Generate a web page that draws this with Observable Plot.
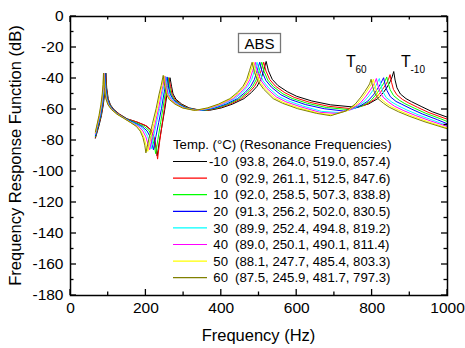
<!DOCTYPE html>
<html><head><meta charset="utf-8">
<script src="https://cdn.jsdelivr.net/npm/d3@7"></script>
<script src="https://cdn.jsdelivr.net/npm/@observablehq/plot@0.6"></script>
<style>body{margin:0;background:#fff}</style>
</head><body><div id="chart"></div>
<script>
const temps = ["-10", "0", "10", "20", "30", "40", "50", "60"];
const resFreqs = ["(93.8, 264.0, 519.0, 857.4)", "(92.9, 261.1, 512.5, 847.6)", "(92.0, 258.5, 507.3, 838.8)", "(91.3, 256.2, 502.0, 830.5)", "(89.9, 252.4, 494.8, 819.2)", "(89.0, 250.1, 490.1, 811.4)", "(88.1, 247.7, 485.4, 803.3)", "(87.5, 245.9, 481.7, 797.3)"];
const colors = ["#000000", "#ff0000", "#00ff00", "#0000ff", "#00ffff", "#ff00ff", "#ffff00", "#808000"];
const xTicks = [0, 200, 400, 600, 800, 1000];
const yTicks = [0, -20, -40, -60, -80, -100, -120, -140, -160, -180];

const sM10 = [[66,-78.5],[75,-71],[82,-64],[87,-57],[90.5,-50],[92.5,-44],[93.8,-36.5],
[96,-46],[100,-53],[106,-57],[115,-60],[130,-63],[150,-66],[175,-68],[200,-70.5],[212,-73],[220,-77],[226,-83],[230,-90],
[236,-80],[243,-70],[250,-60],[256,-50],[260,-44.5],[264,-39.5],
[268,-45],[272,-50],[280,-53.5],[295,-56.5],[315,-59],[345,-60.5],[369,-60.5],
[400,-59],[430,-56.5],[460,-53],[480,-49],[495,-45],[505,-40.5],[512,-35],[519,-29],
[525,-35],[535,-40.5],[550,-44.5],[575,-48.5],[600,-51.5],[640,-54.5],[690,-57],[755,-58.5],
[790,-56.5],[815,-53],[830,-49],[840,-45.5],[848,-42],[853,-39],[857.4,-35.5],
[861,-41],[866,-46],[875,-50],[890,-53],[905,-55],[930,-58],[960,-61.5],[1000,-65]];
const s0 = [[66,-78],[81.1,-64],[86.1,-57],[89.6,-50],[91.6,-44],[92.9,-36.5],
[95.1,-46],[99.1,-53],[104.9,-57],[113.9,-60],[128.9,-63],[148,-66],[176,-68],[201,-70.5],[213,-73],[221,-77.5],[227,-84],[231,-92],
[236.3,-81],[242.5,-70.5],[248.7,-60],[254,-50],[257.5,-44.5],[261.1,-39.5],
[265.1,-45],[269.1,-50],[277.1,-53.5],[292.1,-56.5],[312.1,-59],[342.1,-60.5],[362.5,-60.5],
[393.5,-59],[423.5,-56.5],[453.5,-53],[473.5,-49],[488.5,-45],[498.5,-40.5],[505.5,-35],[512.5,-29.5],
[518.5,-35.2],[528.5,-40.7],[543.5,-44.9],[568.5,-49.2],[593.5,-52.2],[633.5,-55.3],[683.5,-57.9],[745,-59.5],
[780.6,-57.3],[805.6,-53.6],[820.6,-49.5],[830.6,-46],[838.6,-43],[843.6,-40.5],[847.6,-37.5],
[851.6,-42.5],[856.6,-47],[865.6,-50.5],[880.6,-53.5],[895.6,-55.6],[920.6,-58.6],[950.6,-62],[990.6,-65.5],[1000,-66.3]];
const s10 = [[66,-77.5],[80.2,-64],[85.2,-57],[88.7,-50],[90.7,-44],[92,-36.5],
[94.2,-46],[98.2,-53],[104,-57],[113,-60],[128,-63.2],[147,-66],[171,-68.3],[196,-71],[208,-73.5],[216,-77.5],[222,-83],[226,-88.5],
[231.7,-79.5],[238.4,-69.5],[245.1,-59.5],[250.9,-50],[254.7,-44.5],[258.5,-39.3],
[262.5,-45],[266.5,-50],[274.5,-53.5],[289.5,-56.5],[309.5,-59],[339.5,-60.5],[357.3,-60.5],
[388.3,-59],[418.3,-56.5],[448.3,-53],[468.3,-49],[483.3,-45],[493.3,-40.5],[500.3,-35],[507.3,-29.5],
[513.3,-35.3],[523.3,-41],[538.3,-45.3],[563.3,-49.9],[588.3,-52.9],[628.3,-56],[678.3,-58.7],[735,-60],
[771.8,-58],[796.8,-54.2],[811.8,-50],[821.8,-46.4],[829.8,-43.5],[834.8,-41.4],[838.8,-39],
[842.8,-43.2],[847.8,-47.2],[856.8,-51],[871.8,-54],[886.8,-56.2],[911.8,-59.1],[941.8,-62.4],[981.8,-66],[1000,-67.8]];
const s20 = [[66,-77],[79.5,-64],[84.5,-57],[88,-50],[90,-44],[91.3,-36.5],
[93.5,-46],[97.5,-53],[103.3,-57],[112.3,-60],[127,-63.2],[145,-65.8],[167,-68.3],[190,-71],[203,-73.8],[211,-77.5],[216.5,-82.5],[220,-86],
[226.4,-77.5],[233.8,-68.5],[241.3,-59.5],[247.7,-50],[251.9,-44.5],[256.2,-39],
[260.2,-45],[264.2,-50],[272.2,-53.5],[287.2,-56.5],[307.2,-59],[337.2,-60.5],[352,-60.5],
[383,-59],[413,-56.5],[443,-53],[463,-49],[478,-45],[488,-40.5],[495,-35],[502,-29.5],
[508,-35.4],[518,-41.2],[533,-45.6],[558,-50.5],[583,-53.5],[623,-56.8],[673,-59.5],[725,-61],
[763.5,-58.5],[788.5,-54.6],[803.5,-50.6],[813.5,-47],[821.5,-43.8],[826.5,-41.5],[830.5,-39.5],
[834.5,-43.8],[839.5,-47.8],[848.5,-51.8],[863.5,-54.8],[878.5,-56.6],[903.5,-59.6],[933.5,-62.9],[973.5,-66.6],[1000,-69.3]];
const s30 = [[66,-76],[78.1,-64],[83.1,-57],[86.6,-50],[88.6,-44],[89.9,-36.5],
[92.1,-46],[96.1,-53],[101.9,-57],[110.9,-60],[125.5,-63.1],[143,-65.7],[163,-68.4],[185,-71],[197,-73.8],[205,-77.5],[210.5,-82.5],[214,-85.5],
[220.8,-77],[228.7,-68],[236.6,-59.5],[243.4,-50],[247.9,-44.5],[252.4,-38.7],
[256.4,-45],[260.4,-50],[268.4,-53.5],[283.4,-56.5],[303.4,-59],[333.4,-60.5],[344.8,-60.5],
[375.8,-59],[405.8,-56.5],[435.8,-53],[455.8,-49],[470.8,-45],[480.8,-40.5],[487.8,-35],[494.8,-29.5],
[500.8,-35.6],[510.8,-41.5],[525.8,-46.1],[550.8,-51.4],[575.8,-54.3],[615.8,-57.7],[665.8,-61.2],[715,-62],
[752.2,-59.4],[777.2,-55.2],[792.2,-51.1],[802.2,-47.6],[810.2,-44.6],[815.2,-42],[819.2,-40],
[823.2,-44.1],[828.2,-48.3],[837.2,-52.2],[852.2,-55.2],[867.2,-57.3],[892.2,-60.3],[922.2,-63.4],[962.2,-67],[1000,-70.4]];
const s40 = [[66,-75.5],[77.2,-64],[82.2,-57],[85.7,-50],[87.7,-44],[89,-36.5],
[91.2,-46],[95.2,-53],[101,-57],[110,-60],[124.5,-63],[142,-65.6],[161,-68.5],[181,-71],[192,-73.9],[200,-77.7],[206,-82.8],[210,-86],
[217.1,-77.5],[225.3,-68.5],[233.6,-59.5],[240.7,-50],[245.4,-44.5],[250.1,-38.5],
[254.1,-45],[258.1,-50],[266.1,-53.5],[281.1,-56.5],[301.1,-59],[331.1,-60.5],[340.1,-60.5],
[371.1,-59],[401.1,-56.5],[431.1,-53],[451.1,-49],[466.1,-45],[476.1,-40.5],[483.1,-35],[490.1,-29.5],
[496.1,-35.8],[506.1,-41.6],[521.1,-46.4],[546.1,-51.9],[571.1,-55],[611.1,-58.3],[661.1,-61.8],[705,-62.5],
[744.4,-60],[769.4,-55.7],[784.4,-51.3],[794.4,-47.8],[802.4,-44.7],[807.4,-42.5],[811.4,-40],
[815.4,-44.4],[820.4,-48.3],[829.4,-52.1],[844.4,-55.3],[859.4,-57.9],[884.4,-60.8],[914.4,-63.8],[954.4,-67.3],[1000,-71]];
const s50 = [[66,-75],[76.3,-64],[81.3,-57],[84.8,-50],[86.8,-44],[88.1,-36.5],
[90.3,-46],[94.3,-53],[100.1,-57],[109.1,-60],[123.7,-63],[141,-65.5],[160.5,-68.5],[177,-71],[187.5,-74],[195,-78],[200.5,-83],[205,-87],
[212.5,-78.5],[221.3,-69],[230.1,-59.5],[237.7,-50],[242.7,-44.5],[247.7,-38.2],
[251.7,-45],[255.7,-50],[263.7,-53.5],[278.7,-56.5],[298.7,-59],[328.7,-60.5],[335.4,-60.5],
[366.4,-59],[396.4,-56.5],[426.4,-53],[446.4,-49],[461.4,-45],[471.4,-40.5],[478.4,-35],[485.4,-29.5],
[491.4,-35.9],[501.4,-41.9],[516.4,-46.7],[541.4,-52.5],[566.4,-55.6],[606.4,-59],[656.4,-62.3],[695,-63.5],
[736.3,-60.6],[761.3,-56.2],[776.3,-51.7],[786.3,-48.2],[794.3,-45.1],[799.3,-43],[803.3,-40.5],
[807.3,-44.6],[812.3,-48.7],[821.3,-52.7],[836.3,-55.8],[851.3,-58.2],[876.3,-61.2],[906.3,-64.2],[946.3,-67.7],[1000,-72]];
const s60 = [[66,-74.5],[75.5,-64],[80.5,-57],[84.2,-50],[86.2,-44],[87.5,-36.5],
[89.7,-46],[93.7,-53],[99.5,-57],[108.5,-60],[123,-63],[140,-65.5],[160,-68.5],[175,-71],[185,-74],[192,-78],[197,-83],[200,-88],
[208,-79],[217.5,-69],[227,-59.5],[235,-50],[240.5,-44.5],[245.9,-38],
[249.9,-45],[253.9,-50],[261.9,-53.5],[276.9,-56.5],[296.9,-59],[326.9,-60.5],[331.7,-60.5],
[362.7,-59],[392.7,-56.5],[422.7,-53],[442.7,-49],[457.7,-45],[467.7,-40.5],[474.7,-35],[481.7,-29.5],
[487.7,-36],[497.7,-42],[512.7,-47],[537.7,-53],[562.7,-56],[602.7,-59.5],[652.7,-62.5],[690,-64],
[730.3,-61],[755.3,-56.5],[770.3,-52],[780.3,-48.5],[788.3,-45.5],[793.3,-43.5],[797.3,-40.5],
[801.3,-45],[806.3,-49],[815.3,-53],[830.3,-56],[845.3,-58.5],[870.3,-61.5],[900.3,-64.5],[940.3,-68],[1000,-72.5]];

const seriesData = [sM10, s0, s10, s20, s30, s40, s50, s60];
const FONT = "Arial, 'Liberation Sans', sans-serif";

const plot = Plot.plot({
  width: 465, height: 348,
  marginLeft: 70, marginRight: 18, marginTop: 16, marginBottom: 53,
  x: {domain: [0, 1000]},
  y: {domain: [-180, 0]},
  style: {fontFamily: FONT, fontSize: "15.5px", color: "black", background: "white", overflow: "visible"},
  marks: [
    Plot.axisX({ticks: xTicks, tickSize: 0, tickPadding: 6, label: null, tickFormat: d => String(d)}),
    Plot.axisY({ticks: yTicks, tickSize: 0, tickPadding: 7, label: null, tickFormat: d => String(d)}),
    ...seriesData.map((s, i) => Plot.line(s, {x: d => d[0], y: d => d[1], stroke: colors[i], strokeWidth: 1})),
    Plot.frame({stroke: "black", strokeWidth: 1.5})
  ]
});
document.getElementById("chart").appendChild(plot);

const sx = plot.scale("x"), sy = plot.scale("y");
const svg = d3.select(plot);
const g = svg.append("g").attr("stroke", "black").attr("stroke-width", 1.3);
const [x0, x1] = sx.range, [yb, yt] = sy.range;
for (let v = 0; v <= 1000; v += 100) {
  const len = v % 200 === 0 ? 6 : 3.5, px = sx.apply(v);
  g.append("line").attr("x1", px).attr("x2", px).attr("y1", yb).attr("y2", yb - len);
  g.append("line").attr("x1", px).attr("x2", px).attr("y1", yt).attr("y2", yt + len);
}
for (let v = -180; v <= 0; v += 10) {
  const len = v % 20 === 0 ? 6 : 3.5, py = sy.apply(v);
  g.append("line").attr("y1", py).attr("y2", py).attr("x1", x0).attr("x2", x0 + len);
  g.append("line").attr("y1", py).attr("y2", py).attr("x1", x1).attr("x2", x1 - len);
}

// axis titles
svg.append("text").attr("x", (x0 + x1) / 2).attr("y", 341).attr("text-anchor", "middle")
  .attr("font-family", FONT).attr("font-size", 16.5).attr("fill", "black").text("Frequency (Hz)");
svg.append("text").attr("transform", `translate(21,${(yb + yt) / 2}) rotate(-90)`).attr("text-anchor", "middle")
  .attr("font-family", FONT).attr("font-size", 16.5).attr("fill", "black").text("Frequency Response Function (dB)");

// annotations
const ann = svg.append("g").attr("font-family", FONT).attr("fill", "black").attr("text-anchor", "start");
ann.append("rect").attr("x", 238.5).attr("y", 33.5).attr("width", 42).attr("height", 19)
  .attr("fill", "white").attr("stroke", "#777").attr("stroke-width", 1.3);
ann.append("text").attr("x", 259.5).attr("y", 48.5).attr("text-anchor", "middle").attr("font-size", 15).text("ABS");
ann.append("text").attr("x", 346).attr("y", 67).attr("font-size", 16).text("T");
ann.append("text").attr("x", 355.5).attr("y", 73).attr("font-size", 10).text("60");
ann.append("text").attr("x", 401).attr("y", 67).attr("font-size", 16).text("T");
ann.append("text").attr("x", 410.5).attr("y", 73).attr("font-size", 10).text("-10");

// legend
const lg = svg.append("g").attr("font-family", FONT).attr("font-size", 13.2).attr("fill", "black").attr("text-anchor", "start");
lg.append("text").attr("x", 173).attr("y", 144).attr("dy", "0.35em").text("Temp. (\u00B0C) (Resonance Frequencies)");
temps.forEach((t, i) => {
  const cy = 161.5 + i * 16.6;
  lg.append("line").attr("x1", 173).attr("x2", 207).attr("y1", cy).attr("y2", cy).attr("stroke", colors[i]).attr("stroke-width", 1.2);
  lg.append("text").attr("x", 228).attr("y", cy).attr("dy", "0.35em").attr("text-anchor", "end").text(t);
  lg.append("text").attr("x", 235).attr("y", cy).attr("dy", "0.35em").text(resFreqs[i]);
});
</script>
</body></html>
